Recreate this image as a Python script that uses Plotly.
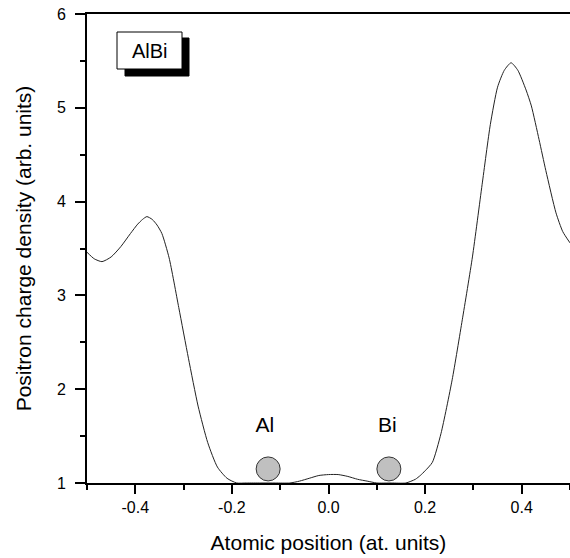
import plotly.graph_objects as go

# ---- data ----
pos_x = [-0.5, -0.485, -0.469, -0.45, -0.43, -0.41, -0.395, -0.385, -0.376, -0.365,
         -0.355, -0.345, -0.33, -0.31, -0.29, -0.27, -0.25, -0.23, -0.21, -0.19,
         -0.17, -0.14, -0.11, -0.08, -0.06, -0.04, -0.02, 0.0, 0.02, 0.04,
         0.06, 0.08, 0.1, 0.13, 0.16, 0.18, 0.19, 0.2, 0.215, 0.233,
         0.256, 0.277, 0.298, 0.318, 0.335, 0.35, 0.364, 0.378, 0.392, 0.409,
         0.42, 0.436, 0.45, 0.471, 0.485, 0.5]
density = [3.46, 3.39, 3.36, 3.41, 3.52, 3.66, 3.76, 3.81, 3.84, 3.81,
           3.75, 3.66, 3.40, 2.87, 2.33, 1.82, 1.43, 1.17, 1.05, 1.00,
           1.00, 1.00, 1.00, 1.00, 1.02, 1.05, 1.08, 1.09, 1.09, 1.07,
           1.04, 1.02, 1.00, 1.00, 1.00, 1.04, 1.08, 1.13, 1.22, 1.53,
           2.10, 2.74, 3.41, 4.18, 4.82, 5.22, 5.40, 5.48, 5.40, 5.19,
           5.02, 4.66, 4.33, 3.88, 3.68, 3.56]

atom_names = ["Al", "Bi"]
atom_x = [-0.125, 0.125]
atom_y = [1.15, 1.15]
label_x = [-0.132, 0.122]
label_y = [1.60, 1.60]
box_label = "AlBi"

x_title = "Atomic position (at. units)"
y_title = "Positron charge density (arb. units)"
x_ticks = [-0.4, -0.2, 0.0, 0.2, 0.4]
x_ticktext = ["-0.4", "-0.2", "0.0", "0.2", "0.4"]
y_ticks = [1, 2, 3, 4, 5, 6]

FONT = "Liberation Sans, Arial, sans-serif"

# plot area in pixels
L, R, T, B = 87, 570, 14, 483
W, H = 570, 558


def px(xp):
    return (xp - L) / (R - L)


def py(yp):
    return (B - yp) / (B - T)


fig = go.Figure()
fig.add_trace(go.Scatter(x=pos_x, y=density, mode="lines",
                         line=dict(color="#222222", width=1, shape="spline", smoothing=0.6),
                         showlegend=False, hoverinfo="skip"))
fig.add_trace(go.Scatter(x=atom_x, y=atom_y, mode="markers",
                         marker=dict(size=24, color="#c0c0c0",
                                     line=dict(color="#333333", width=1)),
                         cliponaxis=False, showlegend=False))
fig.add_trace(go.Scatter(x=label_x, y=label_y, mode="text", text=atom_names,
                         textfont=dict(family=FONT, size=21, color="black"),
                         showlegend=False))

# framed label with drop shadow
fig.add_shape(type="rect", xref="paper", yref="paper",
              x0=px(125), x1=px(189), y0=py(76), y1=py(38),
              fillcolor="black", line=dict(color="black", width=1), layer="above")
fig.add_shape(type="rect", xref="paper", yref="paper",
              x0=px(117), x1=px(182), y0=py(69), y1=py(32),
              fillcolor="white", line=dict(color="black", width=1), layer="above")
fig.add_annotation(xref="paper", yref="paper", x=px(149.5), y=py(51),
                   xanchor="center", yanchor="middle",
                   text=box_label, showarrow=False,
                   font=dict(family=FONT, size=20, color="black"))

fig.update_layout(
    width=W, height=H,
    margin=dict(l=L, r=W - R, t=T, b=H - B, pad=0, autoexpand=False),
    paper_bgcolor="white", plot_bgcolor="white",
    font=dict(family=FONT, color="black"),
    xaxis=dict(range=[-0.5, 0.5], tickvals=x_ticks, ticktext=x_ticktext,
               ticks="outside", ticklen=9, tickwidth=2, tickcolor="black",
               minor=dict(dtick=0.1, tick0=0, ticks="outside", ticklen=5,
                          tickwidth=2, tickcolor="black"),
               showline=True, linecolor="black", linewidth=2, mirror=True,
               showgrid=False, zeroline=False, automargin=False,
               tickfont=dict(family=FONT, size=16),
               title=dict(text=x_title, font=dict(family=FONT, size=21), standoff=20)),
    yaxis=dict(range=[1, 6], tickvals=y_ticks,
               ticks="outside", ticklen=10, tickwidth=2, tickcolor="black",
               minor=dict(dtick=0.5, tick0=0, ticks="outside", ticklen=5,
                          tickwidth=2, tickcolor="black"),
               showline=True, linecolor="black", linewidth=2,
               showgrid=False, zeroline=False, automargin=False,
               tickfont=dict(family=FONT, size=16), ticklabelstandoff=6,
               title=dict(text=y_title, font=dict(family=FONT, size=21), standoff=20)),
)

fig.write_html("out.html", config={"displayModeBar": False},
               post_script="document.body.style.margin='0';")
